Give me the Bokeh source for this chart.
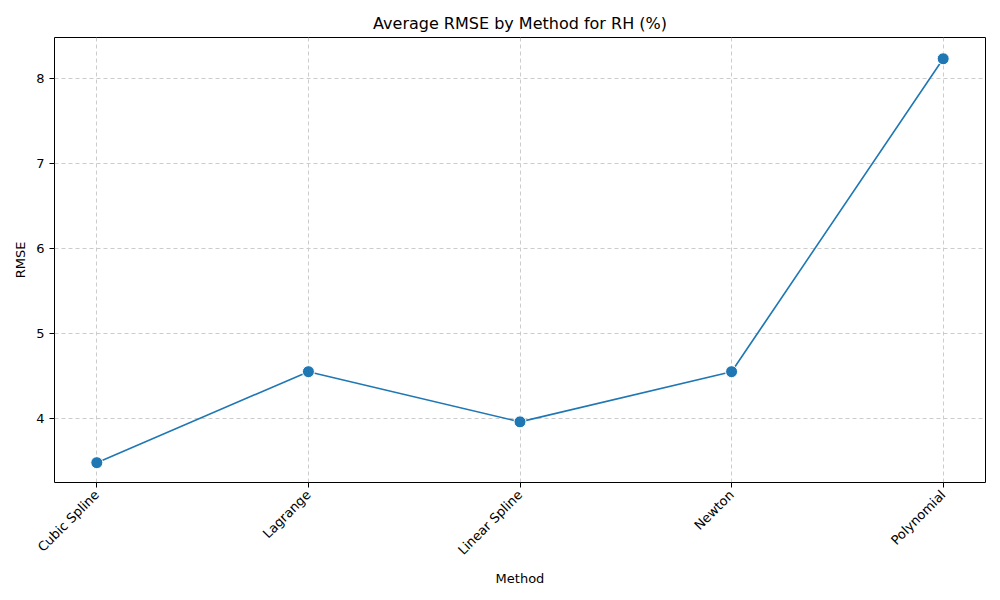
from bokeh.plotting import figure
from bokeh.models import FixedTicker, Range1d
from bokeh.embed import file_html
from bokeh.resources import INLINE
import math

methods = ["Cubic Spline", "Lagrange", "Linear Spline", "Newton", "Polynomial"]
rmse = [3.48, 4.55, 3.96, 4.55, 8.23]
y_ticks = [4, 5, 6, 7, 8]

xs = list(range(len(methods)))
p = figure(width=992, height=592, output_backend="svg", toolbar_location=None,
           x_range=Range1d(-0.2, 4.2), y_range=Range1d(3.247, 8.48),
           title="Average RMSE by Method for RH (%)",
           min_border_left=54, min_border_right=7, min_border_top=37, min_border_bottom=110)
p.title.align = "center"
p.title.text_font = "DejaVu Sans"
p.title.text_font_size = "16px"
p.title.text_font_style = "normal"
p.title.text_color = "black"
p.line(xs, rmse, line_color="#1f77b4", line_width=1.6)
p.scatter(xs, rmse, size=12, fill_color="#1f77b4", line_color="white", line_width=1)
p.xaxis.ticker = FixedTicker(ticks=xs)
p.xaxis.major_label_overrides = {i: m for i, m in enumerate(methods)}
p.xaxis.major_label_orientation = math.pi / 4
p.yaxis.ticker = FixedTicker(ticks=y_ticks)
p.xaxis.axis_label = "Method"
p.yaxis.axis_label = "RMSE"
for ax in (p.xaxis, p.yaxis):
    ax.axis_label_text_font = "DejaVu Sans"
    ax.axis_label_text_font_style = "normal"
    ax.axis_label_text_font_size = "13px"
    ax.axis_label_text_color = "black"
    ax.major_label_text_font = "DejaVu Sans"
    ax.major_label_text_font_size = "13px"
    ax.major_label_text_color = "black"
    ax.minor_tick_line_color = None
    ax.major_tick_out = 5
    ax.major_tick_in = 0
    ax.major_tick_line_color = "black"
    ax.axis_line_color = None
p.grid.grid_line_dash = "4 3"
p.grid.grid_line_color = "#cccccc"
p.outline_line_color = "black"
p.outline_line_alpha = 1
open("out.html", "w").write(file_html(p, INLINE))
